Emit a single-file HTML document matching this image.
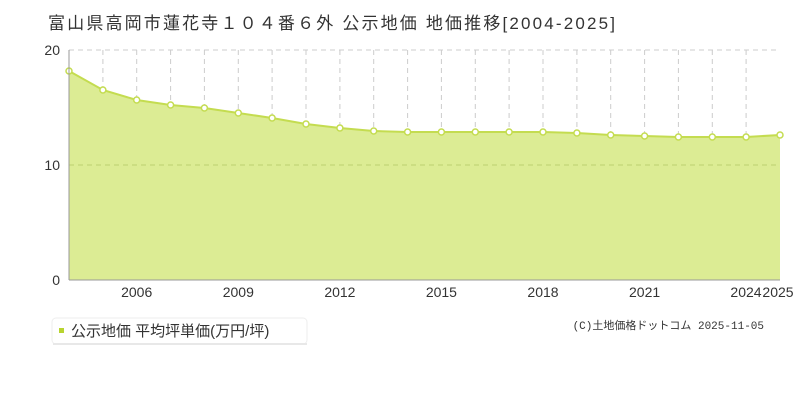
<!DOCTYPE html>
<html><head><meta charset="utf-8"><style>
body{margin:0;background:#fff;width:800px;height:400px;overflow:hidden;font-family:"Liberation Sans","Noto Sans CJK JP",sans-serif;}
</style></head><body>
<svg width="800" height="400" xmlns="http://www.w3.org/2000/svg" font-family="Liberation Sans, Noto Sans CJK JP, sans-serif">
<text x="48" y="29" font-size="17" fill="#333" textLength="567" lengthAdjust="spacing">富山県高岡市蓮花寺１０４番６外 公示地価 地価推移[2004-2025]</text>
<g stroke="#ccc" stroke-dasharray="5,4" stroke-width="1">
<line x1="102.9" y1="50" x2="102.9" y2="280"/><line x1="136.7" y1="50" x2="136.7" y2="280"/><line x1="170.6" y1="50" x2="170.6" y2="280"/><line x1="204.4" y1="50" x2="204.4" y2="280"/><line x1="238.3" y1="50" x2="238.3" y2="280"/><line x1="272.1" y1="50" x2="272.1" y2="280"/><line x1="306" y1="50" x2="306" y2="280"/><line x1="339.9" y1="50" x2="339.9" y2="280"/><line x1="373.7" y1="50" x2="373.7" y2="280"/><line x1="407.6" y1="50" x2="407.6" y2="280"/><line x1="441.4" y1="50" x2="441.4" y2="280"/><line x1="475.3" y1="50" x2="475.3" y2="280"/><line x1="509.1" y1="50" x2="509.1" y2="280"/><line x1="543" y1="50" x2="543" y2="280"/><line x1="576.9" y1="50" x2="576.9" y2="280"/><line x1="610.7" y1="50" x2="610.7" y2="280"/><line x1="644.6" y1="50" x2="644.6" y2="280"/><line x1="678.4" y1="50" x2="678.4" y2="280"/><line x1="712.3" y1="50" x2="712.3" y2="280"/><line x1="746.1" y1="50" x2="746.1" y2="280"/>
<line x1="69" y1="50" x2="780" y2="50"/>
</g>
<polygon fill="#dcec94" points="69,280 69,71 102.9,90 136.7,100 170.6,105 204.4,108 238.3,113 272.1,118 306,124 339.9,128 373.7,131 407.6,132 441.4,132 475.3,132 509.1,132 543,132 576.9,133 610.7,135 644.6,136 678.4,137 712.3,137 746.1,137 780,135 780,280"/>
<line x1="69" y1="165" x2="780" y2="165" stroke="#bcd070" stroke-dasharray="5,4"/>
<polyline fill="none" stroke="#c4dc50" stroke-width="2" points="69,71 102.9,90 136.7,100 170.6,105 204.4,108 238.3,113 272.1,118 306,124 339.9,128 373.7,131 407.6,132 441.4,132 475.3,132 509.1,132 543,132 576.9,133 610.7,135 644.6,136 678.4,137 712.3,137 746.1,137 780,135"/>
<g fill="#fff" stroke="#c4dc50" stroke-width="1.5">
<circle cx="69" cy="71" r="3"/><circle cx="102.9" cy="90" r="3"/><circle cx="136.7" cy="100" r="3"/><circle cx="170.6" cy="105" r="3"/><circle cx="204.4" cy="108" r="3"/><circle cx="238.3" cy="113" r="3"/><circle cx="272.1" cy="118" r="3"/><circle cx="306" cy="124" r="3"/><circle cx="339.9" cy="128" r="3"/><circle cx="373.7" cy="131" r="3"/><circle cx="407.6" cy="132" r="3"/><circle cx="441.4" cy="132" r="3"/><circle cx="475.3" cy="132" r="3"/><circle cx="509.1" cy="132" r="3"/><circle cx="543" cy="132" r="3"/><circle cx="576.9" cy="133" r="3"/><circle cx="610.7" cy="135" r="3"/><circle cx="644.6" cy="136" r="3"/><circle cx="678.4" cy="137" r="3"/><circle cx="712.3" cy="137" r="3"/><circle cx="746.1" cy="137" r="3"/><circle cx="780" cy="135" r="3"/>
</g>
<line x1="69" y1="50" x2="69" y2="280" stroke="#999"/>
<line x1="69" y1="280" x2="780" y2="280" stroke="#999"/>
<g font-size="14" fill="#333" text-anchor="end">
<text x="60" y="55">20</text><text x="60" y="170">10</text><text x="60" y="285">0</text>
</g>
<g font-size="14" fill="#333" text-anchor="middle">
<text x="136.7" y="297">2006</text><text x="238.3" y="297">2009</text><text x="339.9" y="297">2012</text><text x="441.4" y="297">2015</text><text x="543" y="297">2018</text><text x="644.6" y="297">2021</text><text x="746" y="297">2024</text><text x="778" y="297">2025</text>
</g>
<rect x="52" y="318" width="255" height="26" rx="4" fill="#fff" stroke="#eee"/>
<rect x="53" y="343" width="254" height="2" fill="#e8e8e8"/>
<rect x="59" y="328" width="5" height="5" fill="#b8d430"/>
<text x="71" y="336" font-size="15" fill="#333">公示地価 平均坪単価(万円/坪)</text>
<text x="764" y="329" font-size="11" fill="#333" text-anchor="end" font-family="Liberation Mono, Noto Sans CJK JP, monospace">(C)土地価格ドットコム 2025-11-05</text>
</svg>
</body></html>
